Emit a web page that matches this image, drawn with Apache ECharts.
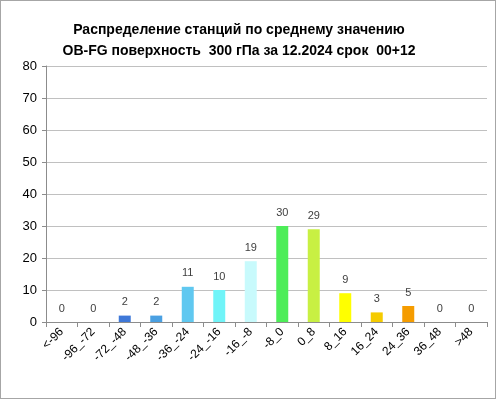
<!DOCTYPE html>
<html>
<head>
<meta charset="utf-8">
<script src="https://cdn.jsdelivr.net/npm/echarts@6/dist/echarts.min.js"></script>
<style>
  html, body { margin: 0; padding: 0; background: #fff; }
  #chart { width: 494px; height: 397px; border: 1px solid #a6a6a6; }
</style>
</head>
<body>
<div id="chart"></div>
<script>
// категории интервалов OB-FG
var categories = ['<-96', '-96_-72', '-72_-48', '-48_-36', '-36_-24', '-24_-16', '-16_-8',
                  '-8_0', '0_8', '8_16', '16_24', '24_36', '36_48', '>48'];
var stationCounts = [0, 0, 2, 2, 11, 10, 19, 30, 29, 9, 3, 5, 0, 0];
var barColors = ['#3b6fd6', '#3b6fd6', '#3f78d8', '#4aa0e2', '#60c8f0', '#70f4f8', '#c8fafc',
                 '#4ded58', '#c8f043', '#ffff00', '#f5cb00', '#f59c00', '#f59c00', '#f59c00'];
var yTicks = [0, 10, 20, 30, 40, 50, 60, 70, 80];

var myChart = echarts.init(document.getElementById('chart'));
var font = 'Liberation Sans, Arial, sans-serif';

var option = {
    animation: false,
    title: {
        text: 'Распределение станций по среднему значению\nOB-FG поверхность  300 гПа за 12.2024 срок  00+12',
        left: 233,
        top: 14,
        textAlign: 'center',
        textStyle: {
            fontFamily: font,
            fontSize: 14,
            fontWeight: 'bold',
            color: '#000',
            lineHeight: 21
        }
    },
    grid: {
        left: 45,
        right: 8,
        top: 65,
        bottom: 76
    },
    xAxis: {
        type: 'category',
        data: categories,
        axisLine: { lineStyle: { color: '#8c8c8c' } },
        axisTick: { show: true, length: 5, lineStyle: { color: '#8c8c8c' } },
        axisLabel: {
            rotate: 45,
            interval: 0,
            fontFamily: font,
            fontSize: 12,
            color: '#000',
            margin: 8
        }
    },
    yAxis: {
        type: 'value',
        min: 0,
        max: 80,
        interval: 10,
        axisLine: { show: true, lineStyle: { color: '#8c8c8c' } },
        axisTick: { show: true, length: 4, lineStyle: { color: '#8c8c8c' } },
        splitLine: { lineStyle: { color: '#c0c0c0' } },
        axisLabel: {
            fontFamily: font,
            fontSize: 13,
            color: '#000',
            margin: 9,
            formatter: function (v) {
                return yTicks.indexOf(v) >= 0 ? String(v) : '';
            }
        }
    },
    series: [
        {
            type: 'bar',
            data: stationCounts.map(function (v, i) {
                return { value: v, itemStyle: { color: barColors[i] } };
            }),
            barWidth: 12,
            label: {
                show: true,
                position: 'top',
                distance: 8,
                fontFamily: font,
                fontSize: 11,
                color: '#404040'
            }
        }
    ]
};

myChart.setOption(option);
</script>
</body>
</html>
